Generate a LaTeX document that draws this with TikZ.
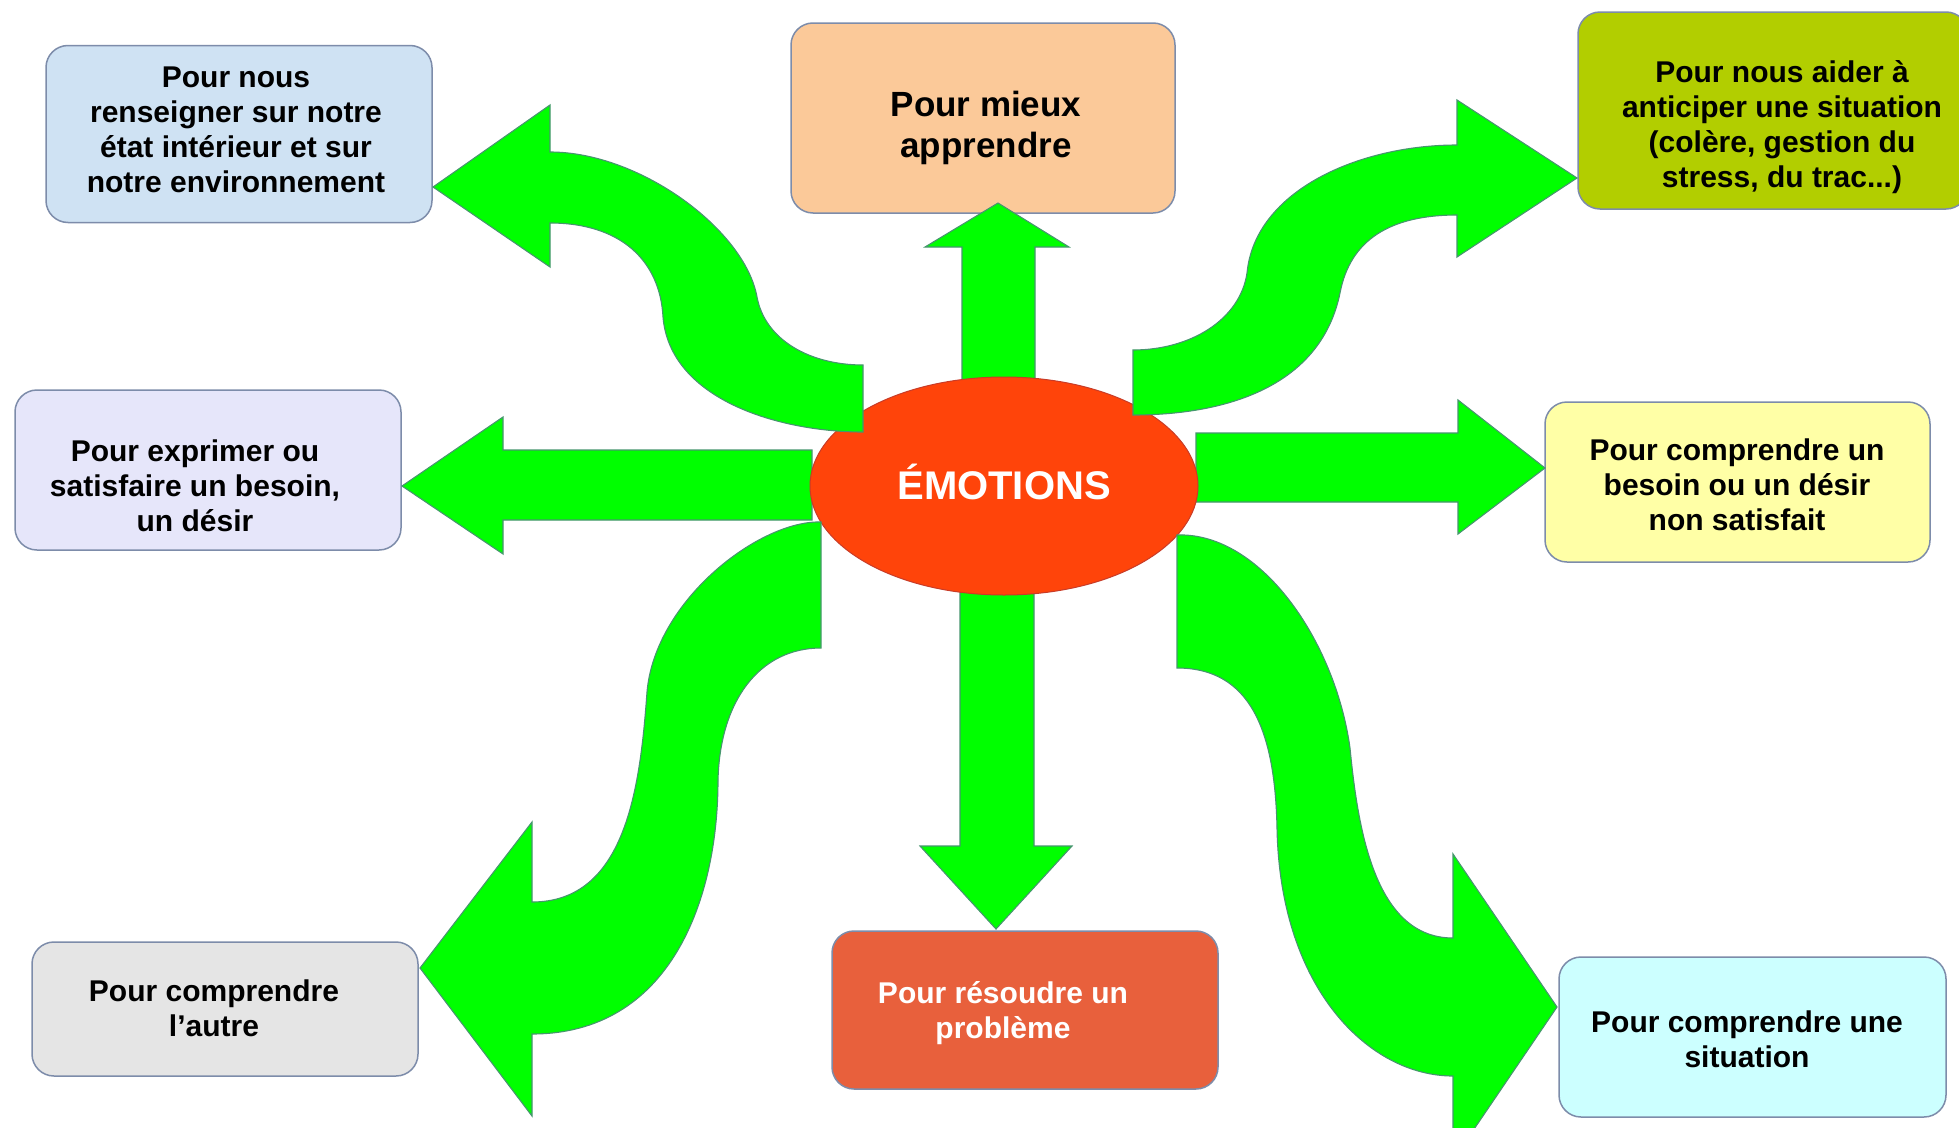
\documentclass[tikz,border=0pt]{standalone}
\usepackage{fontspec}
\setmainfont{Liberation Sans}
\usetikzlibrary{shapes.geometric}
\definecolor{arrowfill}{RGB}{0,255,0}
\definecolor{arrowline}{RGB}{70,150,110}
\definecolor{boxline}{RGB}{125,140,170}
\definecolor{cBlue}{RGB}{207,226,243}
\definecolor{cPeach}{RGB}{251,201,153}
\definecolor{cOlive}{RGB}{178,206,0}
\definecolor{cLav}{RGB}{230,230,250}
\definecolor{cYellow}{RGB}{255,255,166}
\definecolor{cGrey}{RGB}{229,229,229}
\definecolor{cRed}{RGB}{232,96,60}
\definecolor{cCyan}{RGB}{204,255,255}
\definecolor{cEll}{RGB}{255,68,10}
\definecolor{cEllLine}{RGB}{200,60,40}
\begin{document}
\begin{tikzpicture}[x=1pt,y=-1pt,
  box/.style={draw=boxline, line width=1.5pt, rounded corners=22pt, inner sep=0pt},
  txt/.style={align=center, inner sep=0pt, font=\fontsize{30}{35}\selectfont\bfseries},
  bigtxt/.style={align=center, inner sep=0pt, font=\fontsize{35}{41}\selectfont\bfseries},
  arrowshape/.style={fill=arrowfill, draw=arrowline, line width=1.1pt, line join=miter}
]
\clip (0,0) rectangle (1959,1127);
\fill[white] (0,0) rectangle (1959,1127);

% boxes
\node[box, fill=cBlue,   minimum width=386pt, minimum height=177pt] (b1) at (239,134) {};
\node[box, fill=cPeach,  minimum width=384pt, minimum height=190pt] (b2) at (983,118) {};
\node[box, fill=cOlive,  minimum width=390pt, minimum height=197pt] (b3) at (1773,110.5) {};
\node[box, fill=cLav,    minimum width=386pt, minimum height=160pt] (b4) at (208,470) {};
\node[box, fill=cYellow, minimum width=385pt, minimum height=160pt] (b5) at (1737.5,482) {};
\node[box, fill=cGrey,   minimum width=386pt, minimum height=134pt] (b6) at (225,1009) {};
\node[box, fill=cRed,    minimum width=386pt, minimum height=158pt] (b7) at (1025,1010) {};
\node[box, fill=cCyan,   minimum width=387pt, minimum height=160pt] (b8) at (1752.5,1037) {};

% texts
\node[txt] (t1) at (236,130) {Pour nous\\renseigner sur notre\\état intérieur et sur\\notre environnement};
\node[bigtxt] (t2) at (986,128) {Pour mieux\\apprendre};
\node[txt] (t3) at (1782,127.5) {Pour nous aider à\\anticiper une situation\\(colère, gestion du\\stress, du trac...)};
\node[txt] (t4) at (195,486) {Pour exprimer ou\\satisfaire un besoin,\\un désir};
\node[txt] (t5) at (1737,485) {Pour comprendre un\\besoin ou un désir\\non satisfait};
\node[txt] (t6) at (214,1008) {Pour comprendre\\l’autre};
\node[txt, text=white] (t7) at (1003,1013) {Pour résoudre un\\problème};
\node[txt] (t8) at (1747,1039) {Pour comprendre une\\situation};

% straight arrows (below the ellipse)
\draw[arrowshape] (962,385) -- (962,247) -- (925,247) -- (998,203) -- (1069,247) -- (1035,247) -- (1035,385) -- cycle;
\draw[arrowshape] (960,585) -- (960,846) -- (920,846) -- (996,929) -- (1072,846) -- (1034,846) -- (1034,585) -- cycle;
\draw[arrowshape] (812,450) -- (503,450) -- (503,417) -- (402,486) -- (503,554) -- (503,520) -- (812,520) -- cycle;
\draw[arrowshape] (1196,433) -- (1458,433) -- (1458,400) -- (1545,468) -- (1458,534) -- (1458,502) -- (1196,502) -- cycle;

% ellipse
\node[ellipse, fill=cEll, draw=cEllLine, line width=1pt, minimum width=388pt, minimum height=218pt, inner sep=0pt] (emo) at (1004,486) {};
\node[inner sep=0pt, text=white, font=\fontsize{40}{46}\selectfont\bfseries] (emot) at (1004,482) {ÉMOTIONS};

% curved arrows (over the ellipse)
\draw[arrowshape] (863,365) .. controls (810,365) and (765,340) .. (757,297)
  .. controls (745,230) and (640,152) .. (550,152) -- (550,105) -- (433,187) -- (550,267) -- (550,223)
  .. controls (620,223) and (660,260) .. (663,317)
  .. controls (670,400) and (780,432) .. (863,432) -- cycle;

\draw[arrowshape] (1133,350) .. controls (1190,350) and (1240,320) .. (1247,273)
  .. controls (1255,190) and (1360,145) .. (1457,145) -- (1457,100) -- (1577,178) -- (1457,257) -- (1457,215)
  .. controls (1390,215) and (1350,240) .. (1340,293)
  .. controls (1320,390) and (1220,415) .. (1133,415) -- cycle;

\draw[arrowshape] (821,522) .. controls (760,520) and (655,600) .. (647,692)
  .. controls (640,790) and (625,902) .. (532,902) -- (532,822) -- (420,968) -- (532,1116) -- (532,1034)
  .. controls (670,1034) and (718,900) .. (718,780)
  .. controls (720,700) and (760,648) .. (821,648) -- cycle;

\draw[arrowshape] (1177,535) .. controls (1260,532) and (1335,640) .. (1350,748)
  .. controls (1358,830) and (1375,938) .. (1453,938) -- (1453,854) -- (1557,1007) -- (1453,1160) -- (1453,1076)
  .. controls (1370,1076) and (1280,990) .. (1277,828)
  .. controls (1275,730) and (1250,668) .. (1177,668) -- cycle;
\end{tikzpicture}
\end{document}
